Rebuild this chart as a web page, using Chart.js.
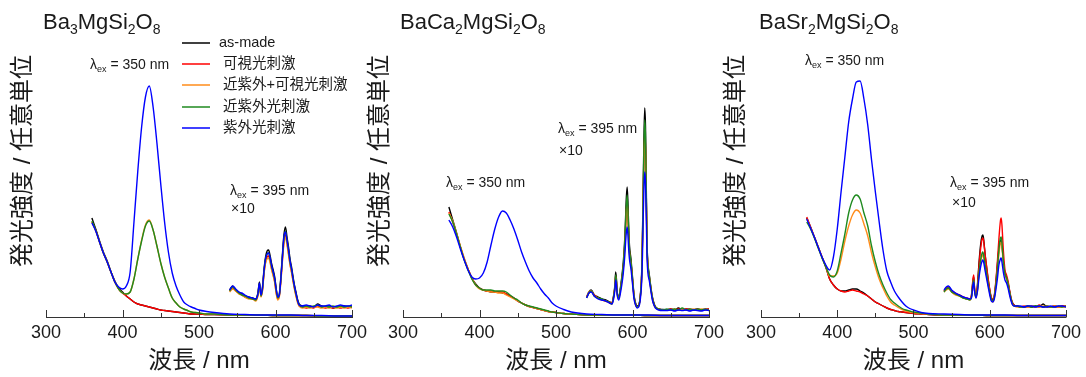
<!DOCTYPE html>
<html>
<head>
<meta charset="utf-8">
<script src="https://cdn.jsdelivr.net/npm/chart.js@4/dist/chart.umd.min.js"></script>
<style>
html, body { margin: 0; padding: 0; background: #fff; }
#wrap { position: relative; width: 1086px; height: 377px; }
#wrap canvas { position: absolute; left: 0; top: 0; }
</style>
</head>
<body>
<div id="wrap">
  <canvas id="c1" width="1086" height="377"></canvas>
  <canvas id="c2" width="1086" height="377"></canvas>
  <canvas id="c3" width="1086" height="377"></canvas>
</div>
<script>
// series names + colours (legend order)
const seriesNames = ['as-made', ' 可視光刺激', ' 近紫外+可視光刺激', ' 近紫外光刺激', ' 紫外光刺激'];
const seriesColours = ['#000000', '#ff0000', '#ff8c1a', '#1f8a1f', '#0000ff'];

// x axis ticks (nm)
const majorTicks = [300, 400, 500, 600, 700];
const minorTicks = [350, 450, 550, 650];

// wavelength grid for the lambda_ex = 350 nm spectra
const wlMain = [360,365,370,375,380,385,390,395,400,405,410,415,420,425,430,435,440,445,450,455,460,465,470,475,480,485,490,495,500,510,520,540,560,580,600,620,640,660,680,700];

// Ba3MgSi2O8, lambda_ex = 350 nm
const p1Black  = [99,88,76,65,56,45,36,29,25,21,18,15,13,12,11,10,9,8,7,6.5,6,5.5,5,4.5,4,3.5,3,3,3,2.5,2.5,2,2,2,1.5,1.5,1.5,1,1,1];
const p1Red    = [95,87,75,64,55,45,35,28,24,21,18,15,13,12,11,10,9,8,7,6.5,6,5.5,5,4.5,4,3.5,3,3,3,2.5,2.5,2,2,2,1.5,1.5,1.5,1,1,1];
const p1Orange = [95,86,75,64,55,45,35,28,24,23,25,38,58,77,92,97,87,71,54,40,29,19,14,10,8,6.5,5,4.5,4,3,3,2,2,2,1.5,1.5,1.5,1,1,1];
const p1Green  = [96,87,75,64,55,45,35,28,24,23,25,38,58,76,91,96,87,71,54,40,29,19,14,10,8,6.5,5,4.5,4,3,3,2,2,2,1.5,1.5,1.5,1,1,1];
const p1Blue   = [94,86,75,64,55,45,35,30,28,31,45,95,146,190,220,231,210,174,133,95,65,44,31,22,15,12,10,8.5,7,5.5,4.5,3,2.5,2,2,2,1.5,1.5,1,1];

// Ba3MgSi2O8, lambda_ex = 395 nm (x10)
const wlX1 = [540,544,548,552,556,560,565,570,574,577,579,581,583,585,587,589,591,593,595,597,599,601,603,605,607,609,611,613,615,617,619,621,623,625,627,629,631,635,640,645,650,655,660,665,670,675,680,685,690,695,700];
const p1xBlack  = [27,31,27,25,23,21,20,19,18,24,35,22,30,48,60,66,67,61,53,47,40,28,20,23,40,62,82,90,80,70,58,50,40,31,24,17,13,11,10,11,10,13,11,10,11,9,10,10,11,10,10];
const p1xRed    = [26,29,26,24,22,20,19,18,17,22,32,21,27,44,55,60,61,56,48,42,35,24,18,21,36,57,75,82,74,64,53,45,36,28,21,15,11,10,9,10,9,11,10,9,10,9,10,9,10,9,10];
const p1xOrange = [25,28,26,23,22,20,18,18,16,21,31,20,26,43,54,58,59,54,47,41,34,23,17,20,35,55,73,80,72,62,52,44,35,27,20,14,11,9,10,9,10,10,9,10,9,10,9,10,9,10,9];
const p1xGreen  = [26,30,27,24,22,21,19,18,17,23,33,21,28,46,58,63,64,58,50,44,37,26,19,22,38,60,78,86,77,67,55,47,38,29,22,16,12,10,11,10,11,12,10,11,10,11,10,11,10,11,10];
const p1xBlue   = [27,31,28,25,24,22,20,19,18,23,34,22,29,46,58,63,64,59,51,45,38,27,20,22,38,59,80,85,77,67,56,48,38,30,23,16,12,11,12,11,10,12,11,11,12,10,11,12,11,11,12];

// BaCa2MgSi2O8, lambda_ex = 350 nm
const p2Black  = [110,97,84,70,58,48,39,33,29,27,26,25,25,25,24,23,21,19,16,14,12,10.5,9.5,8.5,7.5,6.5,5.5,5,4.5,3.5,3,2,2,2,2,1.5,1.5,1.5,1.5,1.5];
const p2Red    = [105,95,83,70,58,48,39,32,29,27,26,26,25,25,25,23,21,19,16,14,12,10.5,9.5,8.5,7.5,6.5,5.5,5,4.5,3.5,3,2,2,2,2,1.5,1.5,1.5,1.5,1.5];
const p2Orange = [104,96,84,71,59,48,39,32,28,27,26,25,25,24,24,22,20,18,16,14,12,10.5,9.5,8.5,7.5,6.5,5.5,5,4.5,3.5,3,2,2,2,2,1.5,1.5,1.5,1.5,1.5];
const p2Green  = [103,95,83,70,57,47,38,32,29,27,27,27,26,26,26,25,22,19,17,14,12,11,10,9,8,7,6,5,4.5,3.5,3,2,2,2,2,1.5,1.5,1.5,1.5,1.5];
const p2Blue   = [97,90,80,68,57,47,40,38,39,44,55,72,88,100,106,104,97,88,77,65,55,46,39,34,28,23,19,14,11,7.5,5,3,2.5,2,2,2,1.5,1.5,1.5,1.5];

// BaCa2MgSi2O8, lambda_ex = 395 nm (x10)
const wlX2 = [540,543,546,550,555,560,565,570,573,575,577,578,579,580,582,584,586,588,590,591,592,593,594,595,596,598,600,602,604,606,608,610,612,613,614,615,616,617,618,619,620,622,624,626,628,630,634,640,645,650,655,660,665,670,675,680,685,690,695,700];
const p2xBlack  = [20,25,27,22,20,18,17,15,14,20,32,45,38,25,20,28,40,55,80,100,120,130,115,90,72,58,40,22,14,11,12,20,45,80,130,180,209,190,130,75,55,42,30,20,14,10,8,7.5,7,8,7,9,7,8,7,7,8,7,7,8,7];
const p2xRed    = [20,24,26,22,19,17,16,15,14,19,30,41,35,24,19,26,37,50,73,90,108,115,103,82,66,54,37,21,13,10,11,19,42,74,120,165,185,170,120,70,52,40,28,19,13,10,8,7,7,8,7,8,7,8,8,7,8,7,8,8,7];
const p2xOrange = [20,25,26,21,19,17,16,14,13,18,29,40,34,23,18,26,36,49,72,88,105,112,100,80,64,53,36,20,12,10,11,18,41,72,118,160,180,165,117,68,51,39,28,18,12,9,8,7,7,7,8,7,8,7,7,8,7,8,7,7,8];
const p2xGreen  = [19,24,26,21,19,18,16,15,13,19,30,42,36,24,19,27,38,52,76,95,113,122,108,85,68,55,38,21,13,10,11,19,42,76,124,172,197,180,124,72,53,41,29,19,13,10,8,7,8,7,8,7,9,7,8,7,8,7,8,7,9];
const p2xBlue   = [19,24,25,21,18,17,16,14,13,17,27,37,32,22,17,23,32,44,62,75,85,90,82,68,58,48,33,18,12,9,10,16,35,60,100,130,145,135,100,60,45,36,26,17,12,9,7,6.5,6.5,7,6,7,6.5,7,6,7,6.5,6,7,6.5,6];

// BaSr2MgSi2O8, lambda_ex = 350 nm
const p3Black  = [99,90,80,70,60,50,38,32,28,26,26,27,28,28,26,24,21,18,15,13,11,9,7.5,6.5,5.5,5,4.5,4,3.5,3,2.5,2,2,2,1.5,1.5,1.5,1.5,1.5,1.5];
const p3Red    = [100,90,80,70,60,50,38,32,28,26,25,26,27,26,25,23,21,18,15,13,11,9,7.5,6.5,5.5,5,4.5,4,3.5,3,2.5,2,2,2,1.5,1.5,1.5,1.5,1.5,1.5];
const p3Orange = [98,89,80,70,60,51,41,41,44,58,76,91,102,107,104,93,81,64,50,38,29,21,15,12,9.5,7.5,6,5,4.5,3.5,3,2,2,2,1.5,1.5,1.5,1.5,1.5,1.5];
const p3Green  = [95,88,79,69,59,50,42,40,46,64,83,104,117,122,118,104,91,71,55,42,32,24,17.5,14,11,8.5,7,6,5,4,3,2,2,2,1.5,1.5,1.5,1.5,1.5,1.5];
const p3Blue   = [98,89,80,70,60,52,47,60,88,125,160,195,218,235,236,218,192,157,125,95,67,46,35,26,20,15,11,8.5,7,4.5,3.5,3,2.5,2,2,2,1.5,1.5,1.5,1.5];

// BaSr2MgSi2O8, lambda_ex = 395 nm (x10)
const wlX3 = [540,543,546,550,555,560,565,570,574,576,578,579,580,582,584,586,588,590,591,592,594,596,598,600,602,604,606,608,610,612,614,615,616,618,620,622,624,626,628,630,632,636,640,645,650,655,660,665,670,675,680,685,690,695,700];
const p3xBlack  = [26,28,29,26,23,22,20,18,18,21,36,40,29,20,33,55,72,81,82,78,62,49,37,27,19,17,21,34,52,68,76,77,72,55,44,40,34,26,18,14,12,11,10,10,11,10,11,10,13,10,10,11,10,11,10];
const p3xRed    = [26,29,30,26,24,22,20,19,18,22,38,42,30,21,32,52,68,78,79,76,62,50,38,28,20,18,22,36,55,78,96,99,92,65,47,42,36,27,19,14,12,11,10,11,10,11,10,12,10,11,10,11,10,11,11];
const p3xOrange = [25,27,28,25,22,21,19,18,17,20,33,36,27,19,27,44,55,61,62,60,50,41,32,24,17,15,19,30,45,63,74,75,70,52,41,38,32,24,17,12,11,10,10,10,10,11,10,10,11,10,10,11,10,10,10];
const p3xGreen  = [25,28,29,25,23,21,19,18,17,20,34,37,27,20,28,45,57,64,65,62,52,43,33,25,18,16,20,32,47,67,79,80,74,55,43,39,33,25,18,13,11,11,10,10,11,10,11,11,10,11,10,10,11,10,11];
const p3xBlue   = [27,30,31,27,24,22,20,19,18,19,32,35,26,19,26,40,50,56,57,55,46,38,30,22,16,15,18,27,38,52,58,59,55,44,37,34,29,22,16,12,11,11,11,10,11,11,10,11,10,10,11,10,11,11,10];

const FONT = '"Liberation Sans", "Noto Sans CJK JP", Arial, sans-serif';
const TEXT = '#1a1a1a';
Chart.defaults.font.family = FONT;

function toPoints(xs, ys) {
    return xs.map((x, i) => ({ x: x, y: ys[i] }));
}

// text with subscripts: parts = [[text, isSub], ...]
function drawRich(ctx, parts, x, y, size) {
    let cx = x;
    parts.forEach(([t, sub]) => {
        const s = sub ? Math.round(size * 0.64) : size;
        ctx.font = s + 'px ' + FONT;
        ctx.fillText(t, cx, sub ? y + size * 0.22 : y);
        cx += ctx.measureText(t).width;
    });
}

const ex350 = [['λ', 0], ['ex', 1], [' = 350 nm', 0]];
const ex395 = [['λ', 0], ['ex', 1], [' = 395 nm', 0]];
const times10 = [['×10', 0]];

// titles, annotations, inward ticks, legend
const decor = {
    id: 'decor',
    afterDraw(chart, args, opts) {
        const ctx = chart.ctx;
        const xs = chart.scales.x;
        ctx.save();

        // inward ticks
        ctx.strokeStyle = '#333';
        ctx.lineWidth = 1;
        const tick = (v, len) => {
            const px = Math.round(xs.getPixelForValue(v)) + 0.5;
            ctx.beginPath();
            ctx.moveTo(px, xs.top + 0.5);
            ctx.lineTo(px, xs.top - len);
            ctx.stroke();
        };
        majorTicks.forEach(v => tick(v, 7));
        minorTicks.forEach(v => tick(v, 4));

        ctx.fillStyle = TEXT;
        ctx.textBaseline = 'alphabetic';
        ctx.textAlign = 'left';
        drawRich(ctx, opts.title, opts.titleX, 29, 22);
        opts.notes.forEach(n => drawRich(ctx, n.parts, n.x, n.y, 14));

        // y title, rotated
        ctx.save();
        ctx.translate(opts.yTitleX, 161);
        ctx.rotate(-Math.PI / 2);
        ctx.textAlign = 'center';
        ctx.textBaseline = 'middle';
        ctx.font = '24px ' + FONT;
        ctx.fillText('発光強度 / 任意単位', 0, 0);
        ctx.restore();

        if (opts.legend) {
            ctx.font = '14.5px ' + FONT;
            ctx.textBaseline = 'middle';
            ctx.lineWidth = 1.5;
            seriesNames.forEach((name, i) => {
                const y = 42.5 + i * 21.4;
                ctx.strokeStyle = seriesColours[i];
                ctx.beginPath();
                ctx.moveTo(182, Math.round(y));
                ctx.lineTo(210, Math.round(y));
                ctx.stroke();
                ctx.fillStyle = TEXT;
                ctx.fillText(name, 219, y);
            });
        }
        ctx.restore();
    }
};

function lineSet(points, colour) {
    return {
        data: points,
        borderColor: colour,
        borderWidth: 1.4,
        pointRadius: 0,
        fill: false,
        cubicInterpolationMode: 'monotone'
    };
}

function makeChart(id, main, x10, wlX, padLeft, padRight, decorOpts) {
    // blue first so it is drawn on top
    const order = [4, 3, 2, 1, 0];
    const datasets = [];
    order.forEach(i => datasets.push(lineSet(toPoints(wlMain, main[i]), seriesColours[i])));
    order.forEach(i => datasets.push(lineSet(toPoints(wlX, x10[i]), seriesColours[i])));

    return new Chart(document.getElementById(id), {
        type: 'line',
        data: { datasets: datasets },
        options: {
            responsive: false,
            animation: false,
            events: [],
            layout: { padding: { left: padLeft, right: padRight, top: 17, bottom: 0 } },
            scales: {
                x: {
                    type: 'linear',
                    min: 300,
                    max: 700,
                    afterFit: s => { s.height = 60; },
                    grid: { display: false, drawTicks: false },
                    border: { display: true, color: '#333', width: 1 },
                    ticks: { stepSize: 100, padding: 5, color: TEXT, font: { size: 18 }, maxRotation: 0 },
                    title: { display: true, text: '波長 / nm', color: TEXT, font: { size: 24 }, padding: { top: 0, bottom: 1 } }
                },
                y: { display: false, min: 0, max: 300 }
            },
            plugins: {
                legend: { display: false },
                tooltip: { enabled: false },
                decor: decorOpts
            }
        },
        plugins: [decor]
    });
}

makeChart('c1',
    [p1Black, p1Red, p1Orange, p1Green, p1Blue],
    [p1xBlack, p1xRed, p1xOrange, p1xGreen, p1xBlue],
    wlX1, 46, 1086 - 352,
    {
        title: [['Ba', 0], ['3', 1], ['MgSi', 0], ['2', 1], ['O', 0], ['8', 1]],
        titleX: 43,
        yTitleX: 23,
        legend: true,
        notes: [
            { parts: ex350, x: 90, y: 69 },
            { parts: ex395, x: 230, y: 195 },
            { parts: times10, x: 231, y: 213 }
        ]
    });

makeChart('c2',
    [p2Black, p2Red, p2Orange, p2Green, p2Blue],
    [p2xBlack, p2xRed, p2xOrange, p2xGreen, p2xBlue],
    wlX2, 403, 1086 - 709,
    {
        title: [['BaCa', 0], ['2', 1], ['MgSi', 0], ['2', 1], ['O', 0], ['8', 1]],
        titleX: 400,
        yTitleX: 380,
        legend: false,
        notes: [
            { parts: ex395, x: 558, y: 133 },
            { parts: times10, x: 559, y: 155 },
            { parts: ex350, x: 446, y: 187 }
        ]
    });

makeChart('c3',
    [p3Black, p3Red, p3Orange, p3Green, p3Blue],
    [p3xBlack, p3xRed, p3xOrange, p3xGreen, p3xBlue],
    wlX3, 761, 1086 - 1067,
    {
        title: [['BaSr', 0], ['2', 1], ['MgSi', 0], ['2', 1], ['O', 0], ['8', 1]],
        titleX: 759,
        yTitleX: 736,
        legend: false,
        notes: [
            { parts: ex350, x: 805, y: 65 },
            { parts: ex395, x: 950, y: 187 },
            { parts: times10, x: 952, y: 207 }
        ]
    });
</script>
</body>
</html>
